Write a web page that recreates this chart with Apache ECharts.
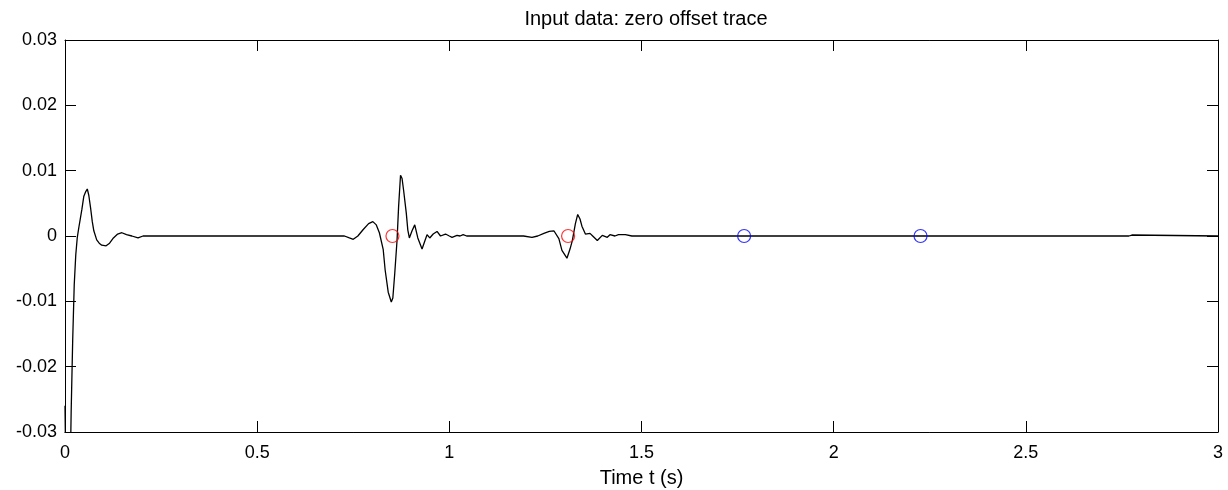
<!DOCTYPE html>
<html><head><meta charset="utf-8">
<script src="https://cdn.jsdelivr.net/npm/echarts@6/dist/echarts.min.js"></script>
<style>html,body{margin:0;padding:0;background:#fff}#c{width:1228px;height:490px}</style>
</head><body><div id="c"></div>
<script>
const titleText = 'Input data: zero offset trace';
const xLabelText = 'Time t (s)';
const traceTime = [0, 0.004, 0.008, 0.012, 0.016, 0.020, 0.024, 0.028, 0.032, 0.036, 0.040, 0.044, 0.049, 0.054, 0.058, 0.062, 0.067, 0.071, 0.075, 0.0825, 0.089, 0.0955, 0.107, 0.116, 0.126, 0.137, 0.148, 0.160, 0.174, 0.190, 0.203,
  0.727, 0.740, 0.750, 0.762, 0.776, 0.790, 0.801, 0.810, 0.818, 0.828, 0.833, 0.841, 0.849, 0.853, 0.858, 0.864, 0.868, 0.873, 0.877, 0.881, 0.888, 0.892, 0.896, 0.903, 0.910, 0.918, 0.929, 0.936, 0.942, 0.949, 0.958, 0.968, 0.977, 0.990, 1.000, 1.007, 1.020, 1.028, 1.036, 1.045,
  1.193, 1.215, 1.230, 1.246, 1.260, 1.272, 1.285, 1.293, 1.306, 1.314, 1.320, 1.328, 1.334, 1.340, 1.345, 1.354, 1.366, 1.373, 1.385, 1.398, 1.411, 1.418, 1.431, 1.440, 1.458, 1.475,
  2.768, 2.771, 2.776, 2.779, 3.0];
const traceAmp = [-0.026, -0.045, -0.06, -0.042, -0.027, -0.016, -0.0075, -0.0029, -0.0002, 0.0013, 0.0027, 0.0041, 0.0061, 0.0068, 0.0072, 0.0062, 0.0041, 0.0022, 0.0008, -0.0006, -0.0011, -0.0014, -0.0015, -0.0011, -0.0003, 0.0003, 0.0005, 0.0002, 0.0000, -0.0003, 0.0000,
  0.0000, -0.0003, -0.0005, 0.0000, 0.0010, 0.0019, 0.0022, 0.0017, 0.0005, -0.0021, -0.0052, -0.0086, -0.0101, -0.0095, -0.0057, -0.0006, 0.0045, 0.0093, 0.0088, 0.0070, 0.0035, 0.0009, -0.0003, 0.0008, 0.0017, -0.0003, -0.0020, -0.0008, 0.0002, -0.0003, 0.0003, 0.0007, 0.0000, 0.0003, 0.0000, -0.0002, 0.0001, 0.0000, 0.0002, 0.0000,
  0.0000, -0.0002, 0.0000, 0.0004, 0.0007, 0.0008, -0.0004, -0.0022, -0.0034, -0.0020, -0.0007, 0.0019, 0.0033, 0.0026, 0.0015, 0.0003, 0.0004, 0.0000, -0.0007, 0.0001, -0.0002, 0.0002, 0.0000, 0.0002, 0.0002, 0.0000,
  0.0000, 0.00015, 0.00015, 0.0000, 0.0000];
const redTimes = [0.852, 1.309];
const redAmp = [0, 0];
const blueTimes = [1.767, 2.226];
const blueAmp = [0, 0];
const xTickValues = [0, 0.5, 1, 1.5, 2, 2.5, 3];
const yTickValues = [-0.03, -0.02, -0.01, 0, 0.01, 0.02, 0.03];

const font = "'Liberation Sans', Arial, sans-serif";
const trace = traceTime.map((t, i) => [t, traceAmp[i]]);
const red = redTimes.map((t, i) => [t, redAmp[i]]);
const blue = blueTimes.map((t, i) => [t, blueAmp[i]]);
const fmtX = v => String(parseFloat(v.toFixed(2)));
const fmtY = v => String(parseFloat(v.toFixed(3)));

const baseAxis = {
  axisLine: { show: true, onZero: false, lineStyle: { color: '#000', width: 1 } },
  axisTick: { show: true, inside: true, length: 11, lineStyle: { color: '#000', width: 1 } },
  splitLine: { show: false }
};
const xBase = Object.assign({}, baseAxis, { type: 'value', min: xTickValues[0], max: xTickValues[xTickValues.length - 1], interval: 0.5 });
const yBase = Object.assign({}, baseAxis, { type: 'value', min: yTickValues[0], max: yTickValues[yTickValues.length - 1], interval: 0.01 });

const chart = echarts.init(document.getElementById('c'), null, { renderer: 'canvas' });
chart.setOption({
  animation: false,
  backgroundColor: '#fff',
  title: { text: titleText, left: 641, top: 4, textAlign: 'center',
    textStyle: { fontFamily: font, fontSize: 20, fontWeight: 'normal', color: '#000' } },
  grid: { left: 65, right: 10, top: 40, bottom: 58, containLabel: false, outerBoundsMode: 'none' },
  xAxis: [
    Object.assign({}, xBase, { position: 'bottom', name: xLabelText, nameLocation: 'middle', nameGap: 36,
      nameTextStyle: { fontFamily: font, fontSize: 20, color: '#000' },
      axisLabel: { show: true, margin: 12, fontFamily: font, fontSize: 18, color: '#000', formatter: fmtX } }),
    Object.assign({}, xBase, { position: 'top', axisLabel: { show: false } })
  ],
  yAxis: [
    Object.assign({}, yBase, { position: 'left',
      axisLabel: { show: true, margin: 8, fontFamily: font, fontSize: 18, color: '#000', formatter: fmtY } }),
    Object.assign({}, yBase, { position: 'right', axisLabel: { show: false } })
  ],
  series: [
    { type: 'line', data: trace, xAxisIndex: 0, yAxisIndex: 0, showSymbol: false, clip: true,
      lineStyle: { color: '#000', width: 1.3 }, z: 2 },
    { type: 'scatter', data: red, symbol: 'circle', symbolSize: 13, z: 3,
      itemStyle: { color: 'rgba(0,0,0,0)', borderColor: '#ff0000', borderWidth: 1.2 } },
    { type: 'scatter', data: blue, symbol: 'circle', symbolSize: 13, z: 3,
      itemStyle: { color: 'rgba(0,0,0,0)', borderColor: '#0000ff', borderWidth: 1.2 } }
  ]
});
</script></body></html>
